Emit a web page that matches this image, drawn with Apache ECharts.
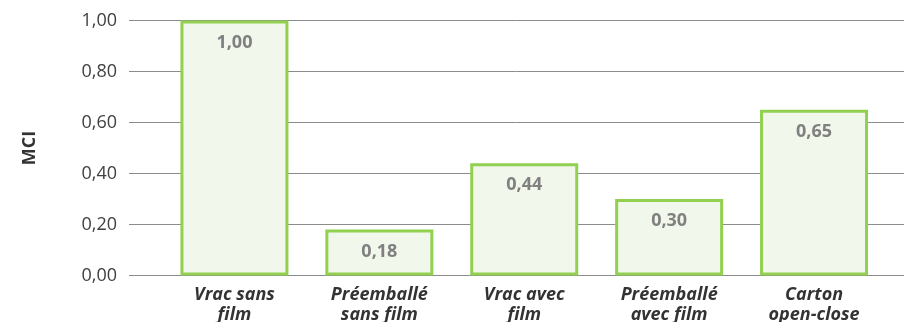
<!DOCTYPE html>
<html>
<head>
<meta charset="utf-8">
<script src="https://cdn.jsdelivr.net/npm/echarts@6/dist/echarts.min.js"></script>
<style>
  html, body { margin: 0; padding: 0; background: #fff; }
  #chart { width: 904px; height: 322px; }
</style>
</head>
<body>
<div id="chart"></div>
<script>
// Packaging types and their MCI values
const categories = [
  'Vrac sans\nfilm',
  'Préemballé\nsans film',
  'Vrac avec\nfilm',
  'Préemballé\navec film',
  'Carton\nopen-close'
];
const mciValues = [1.00, 0.18, 0.44, 0.30, 0.65];
const yTicks = { min: 0, max: 1, interval: 0.2 };

const fmt = v => v.toFixed(2).replace('.', ',');
const FONT = '"Open Sans", "Noto Sans", sans-serif';

const chart = echarts.init(document.getElementById('chart'), null, { renderer: 'canvas' });

chart.setOption({
  animation: false,
  backgroundColor: '#ffffff',
  grid: [
    // full-width grid carrying the horizontal rules and value labels
    { left: 129, right: 0, top: 20.5, bottom: 46.5, outerBoundsMode: 'none' },
    // grid holding the bars
    { left: 162, right: 17.5, top: 20.5, bottom: 46.5, outerBoundsMode: 'none' }
  ],
  xAxis: [
    { gridIndex: 0, type: 'value', min: 0, max: 1, show: false },
    {
      gridIndex: 1,
      type: 'category',
      data: categories,
      axisLine: { show: false },
      axisTick: { show: false },
      axisLabel: {
        margin: 9,
        fontFamily: FONT,
        fontSize: 18,
        fontWeight: 'bold',
        fontStyle: 'italic',
        color: '#333333',
        lineHeight: 20,
        interval: 0
      }
    }
  ],
  yAxis: [
    {
      gridIndex: 0,
      type: 'value',
      min: yTicks.min,
      max: yTicks.max,
      interval: yTicks.interval,
      name: 'MCI',
      nameLocation: 'middle',
      nameGap: 90,
      nameRotate: 90,
      nameTextStyle: {
        fontFamily: FONT,
        fontSize: 18,
        fontWeight: 'bold',
        color: '#333333'
      },
      axisLine: { show: false },
      axisTick: { show: false },
      axisLabel: {
        margin: 12,
        fontFamily: FONT,
        fontSize: 18,
        color: '#404040',
        formatter: v => fmt(v)
      },
      splitLine: { show: true, lineStyle: { color: '#8c8c8c', width: 1 } }
    },
    {
      gridIndex: 1,
      type: 'value',
      min: yTicks.min,
      max: yTicks.max,
      interval: yTicks.interval,
      show: false,
      splitLine: { show: false }
    }
  ],
  series: [
    {
      type: 'bar',
      xAxisIndex: 1,
      yAxisIndex: 1,
      data: mciValues,
      barWidth: 108,
      itemStyle: {
        color: '#f1f7ea',
        borderColor: '#92d050',
        borderWidth: 3
      },
      label: {
        show: true,
        position: 'insideTop',
        distance: 13,
        fontFamily: FONT,
        fontSize: 18,
        fontWeight: 'bold',
        color: '#808080',
        formatter: p => fmt(p.value)
      }
    }
  ]
});
</script>
</body>
</html>
